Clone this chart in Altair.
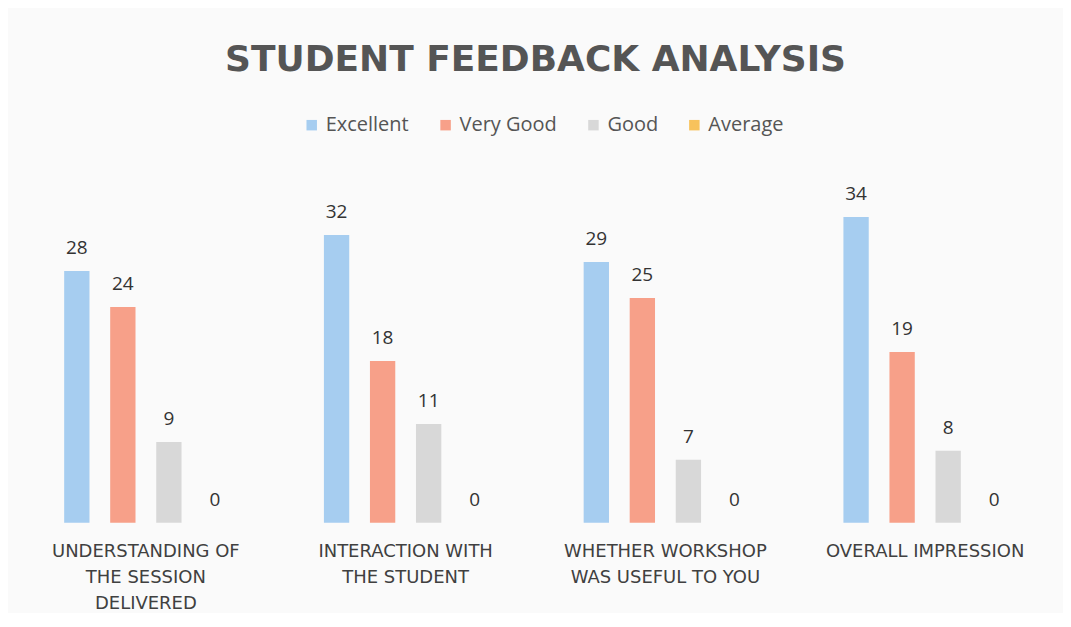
import altair as alt
import pandas as pd

categories = [
    "UNDERSTANDING OF THE SESSION DELIVERED",
    "INTERACTION WITH THE STUDENT",
    "WHETHER WORKSHOP WAS USEFUL TO YOU",
    "OVERALL IMPRESSION",
]
label_lines = [
    ["UNDERSTANDING OF", "THE SESSION", "DELIVERED"],
    ["INTERACTION WITH", "THE STUDENT"],
    ["WHETHER WORKSHOP", "WAS USEFUL TO YOU"],
    ["OVERALL IMPRESSION"],
]
series = ["Excellent", "Very Good", "Good", "Average"]
colors = ["#A6CDF0", "#F7A089", "#D8D8D8", "#F7C25C"]

excellent = [28, 32, 29, 34]
very_good = [24, 18, 25, 19]
good = [9, 11, 7, 8]
average = [0, 0, 0, 0]

values = {"Excellent": excellent, "Very Good": very_good, "Good": good, "Average": average}
rows = []
for s in series:
    for c, v in zip(categories, values[s]):
        rows.append({"category": c, "series": s, "value": v})
df = pd.DataFrame(rows)

# multi-line axis labels
expr = "datum.value"
for c, lines in reversed(list(zip(categories, label_lines))):
    arr = "[" + ",".join("'" + l + "'" for l in lines) + "]"
    expr = f"datum.value == '{c}' ? {arr} : ({expr})"

FONT = "Open Sans"

x = alt.X(
    "category:N",
    sort=categories,
    title=None,
    scale=alt.Scale(paddingInner=0.3, paddingOuter=0.15),
    axis=alt.Axis(
        labelExpr=expr,
        labelAngle=0,
        labelFontSize=18,
        labelFont="DejaVu Sans",
        labelColor="#404040",
        labelPadding=20,
        labelLineHeight=26,
        labelLimit=400,
        domain=False,
        ticks=False,
        grid=False,
    ),
)
xo = alt.XOffset("series:N", sort=series, scale=alt.Scale(paddingInner=0.45, paddingOuter=0.2))
y = alt.Y("value:Q", scale=alt.Scale(domain=[0, 36]), axis=None)

bars = alt.Chart(df).mark_bar().encode(
    x=x,
    xOffset=xo,
    y=y,
    color=alt.Color(
        "series:N",
        sort=series,
        scale=alt.Scale(domain=series, range=colors),
        legend=alt.Legend(
            title=None,
            orient="none",
            direction="horizontal",
            legendX=286,
            legendY=-84,
            symbolType="square",
            symbolSize=110,
            symbolStrokeWidth=0,
            labelFontSize=20,
            labelFont=FONT,
            labelColor="#555555",
            columnPadding=26,
            symbolOffset=0,
            labelOffset=4,
        ),
    ),
)

labels = alt.Chart(df).mark_text(
    baseline="middle", dy=-23, fontSize=19, font=FONT, color="#333333"
).encode(x=x, xOffset=xo, y=y, text="value:Q")

chart = (
    (bars + labels)
    .properties(
        width=1040,
        height=324,
        title=alt.TitleParams(
            "STUDENT FEEDBACK ANALYSIS",
            fontSize=36,
            font="DejaVu Sans",
            fontWeight="bold",
            color="#555555",
            anchor="middle",
            offset=36,
        ),
        padding={"left": 8, "top": 34, "right": 8, "bottom": 0},
        background="#FAFAFA",
    )
    .configure_view(stroke=None)
)

chart.save("out.html", embed_options={"renderer": "svg", "actions": False})
